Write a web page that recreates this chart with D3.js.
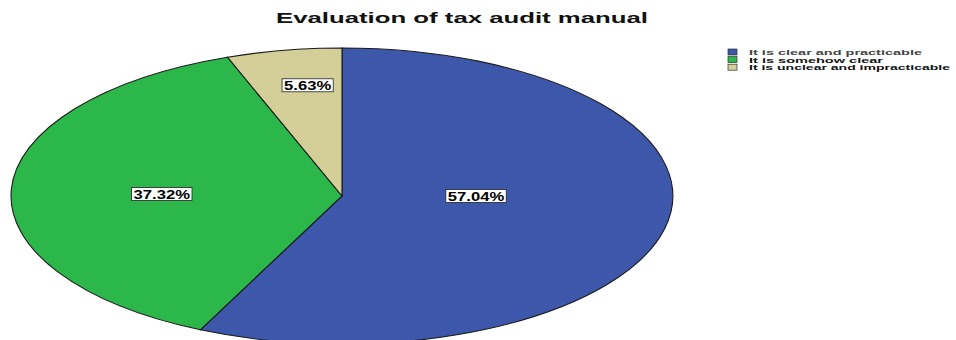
<!DOCTYPE html>
<html>
<head>
<meta charset="utf-8">
<script src="https://cdn.jsdelivr.net/npm/d3@7"></script>
<style>
  html, body { margin: 0; padding: 0; background: #ffffff; }
  svg { display: block; }
</style>
</head>
<body>
<svg id="chart" width="956" height="340"></svg>
<script>
// Survey answers and their shares (percent)
const categories = [
  "It is clear and practicable",
  "It is somehow clear",
  "It is unclear and impracticable"
];
const shares = [57.04, 37.32, 5.63];
const sliceLabels = ["57.04%", "37.32%", "5.63%"];
const colors = ["#3d57ab", "#2cb74b", "#d4cf98"];
const chartTitle = "Evaluation of tax audit manual";

const W = 956, H = 340;
const cx = 342, cy = 196, rx = 331, ry = 148;
// label placement as fractions of the horizontal / vertical radius, per slice
const labelFrac = [[0.415, 0], [0.545, 0.3], [0.59, 0.76]];

const svg = d3.select("#chart");

// Title
svg.append("text")
  .attr("x", 462).attr("y", 23)
  .attr("text-anchor", "middle")
  .attr("font-family", "Liberation Sans, Arial, sans-serif")
  .attr("font-weight", "bold")
  .attr("font-size", 14)
  .attr("textLength", 372)
  .attr("lengthAdjust", "spacingAndGlyphs")
  .attr("fill", "#111")
  .text(chartTitle);

// Pie drawn on a unit circle and stretched into an ellipse
const pie = d3.pie().sort(null).value(d => d.value);
const arcs = pie(shares.map((v, i) => ({ value: v, i })));
const arc = d3.arc().innerRadius(0).outerRadius(1);

const pieG = svg.append("g")
  .attr("transform", `translate(${cx},${cy}) scale(${rx},${ry})`);

pieG.selectAll("path.slice")
  .data(arcs)
  .enter().append("path")
  .attr("class", "slice")
  .attr("d", arc)
  .attr("fill", d => colors[d.data.i])
  .attr("stroke", "#1a1a1a")
  .attr("stroke-width", 1.1)
  .attr("vector-effect", "non-scaling-stroke");

// Percentage labels in white boxes
const labelG = svg.append("g");
arcs.forEach((d, i) => {
  const a = (d.startAngle + d.endAngle) / 2;
  const [kx, ky] = labelFrac[i];
  const x = cx + rx * kx * Math.sin(a);
  const y = cy - ry * ky * Math.cos(a);
  const g = labelG.append("g").attr("transform", `translate(${x},${y})`);
  const t = g.append("text")
    .attr("text-anchor", "middle")
    .attr("dy", "0.37em")
    .attr("font-family", "Liberation Sans, Arial, sans-serif")
    .attr("font-weight", "bold")
    .attr("font-size", 12.5)
    .attr("fill", "#000")
    .text(sliceLabels[i]);
  const natural = t.node().getComputedTextLength();
  t.attr("textLength", natural * 1.33).attr("lengthAdjust", "spacingAndGlyphs");
  const w = natural * 1.33;
  g.insert("rect", "text")
    .attr("x", -w / 2 - 2).attr("y", -6.5)
    .attr("width", w + 4).attr("height", 13)
    .attr("fill", "#ffffff")
    .attr("stroke", "#222")
    .attr("stroke-width", 0.8);
});

// Legend
const legendLen = [173, 134, 201];
const legend = svg.append("g").attr("transform", "translate(728,49)");
categories.forEach((c, i) => {
  const row = legend.append("g").attr("transform", `translate(0,${i * 7.6})`);
  row.append("rect")
    .attr("x", 0).attr("y", 0)
    .attr("width", 9).attr("height", 6)
    .attr("fill", colors[i])
    .attr("stroke", "#333")
    .attr("stroke-width", 0.7);
  row.append("text")
    .attr("x", 21).attr("y", 6)
    .attr("font-family", "Liberation Sans, Arial, sans-serif")
    .attr("font-weight", "bold")
    .attr("font-size", 8)
    .attr("textLength", legendLen[i])
    .attr("lengthAdjust", "spacingAndGlyphs")
    .attr("fill", i === 0 ? "#444" : "#111")
    .text(c);
});
</script>
</body>
</html>
